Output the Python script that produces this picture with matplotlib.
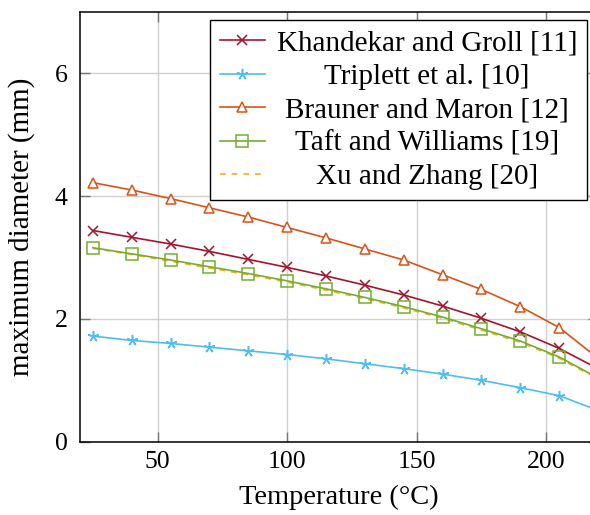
import matplotlib
matplotlib.use("Agg")
import matplotlib.pyplot as plt
import matplotlib.transforms as mtransforms

plt.rcParams['font.family'] = ['Liberation Serif', 'DejaVu Serif']

# ---- data ----
temperature = [25, 40, 55, 70, 85, 100, 115, 130, 145, 160, 175, 190, 205, 220]
khandekar = [3.44, 3.33, 3.22, 3.10, 2.97, 2.84, 2.70, 2.55, 2.39, 2.21, 2.01, 1.79, 1.52, 1.19]
triplett = [1.72, 1.65, 1.60, 1.54, 1.48, 1.42, 1.35, 1.27, 1.19, 1.10, 1.00, 0.88, 0.75, 0.51]
brauner = [4.22, 4.10, 3.96, 3.81, 3.66, 3.49, 3.32, 3.14, 2.96, 2.72, 2.48, 2.20, 1.86, 1.36]
taft = [3.16, 3.06, 2.96, 2.85, 2.74, 2.62, 2.49, 2.35, 2.20, 2.03, 1.84, 1.64, 1.38, 1.04]
xu = [3.15, 3.05, 2.94, 2.83, 2.72, 2.60, 2.47, 2.33, 2.18, 2.01, 1.82, 1.62, 1.36, 1.02]

labels = ["Khandekar and Groll [11]", "Triplett et al. [10]", "Brauner and Maron [12]",
          "Taft and Williams [19]", "Xu and Zhang [20]"]
x_ticks = [50, 100, 150, 200]
y_ticks = [0, 2, 4, 6]

W, H = 590, 515
fig = plt.figure(figsize=(W / 100, H / 100), dpi=100)
left, right, top, bottom = 80, 598, 12, 441.7
ax = fig.add_axes([left / W, 1 - bottom / H, (right - left) / W, (bottom - top) / H])

lw = 1.2
ax.plot(temperature, khandekar, color='#A2142F', lw=lw, marker='x', ms=6.5, mew=1.1,
        label=labels[0], zorder=3)
ax.plot(temperature, triplett, color='#4DBEEE', lw=lw, marker=(5, 2, 0), ms=8, mew=1.1,
        label=labels[1], zorder=3)
ax.plot(temperature, brauner, color='#D95319', lw=lw, marker='^', ms=7, mew=1.1,
        mfc='white', label=labels[2], zorder=3)
ax.plot(temperature, taft, color='#77AC30', lw=lw, marker='s', ms=8.5, mew=1.1,
        mfc='none', label=labels[3], zorder=3)
ax.plot(temperature, xu, color='#EDB120', lw=lw, ls=(0, (3.5, 3.5)),
        label=labels[4], zorder=2.9)

ax.set_xlim(20, 220)
ax.set_ylim(0, 7)
ax.set_xticks(x_ticks)
ax.set_yticks(y_ticks)
ax.grid(True, color='#d0d0d0', lw=1.0)
ax.set_axisbelow(True)
ax.tick_params(direction='in', length=7, width=1.0, color='#777777', labelsize=18.5,
               top=True, right=True)
ax.tick_params(axis='x', pad=7)
ax.tick_params(axis='y', pad=9)
for s in ax.spines.values():
    s.set_linewidth(1.1)
    s.set_color('black')

ax.set_xlabel("Temperature (°C)", fontsize=20.5, labelpad=8)
ax.set_ylabel("maximum diameter (mm)", fontsize=21, labelpad=14)

leg = ax.legend(loc='upper right', bbox_to_anchor=(0.979, 0.981), borderaxespad=0,
                prop={'size': 21}, fancybox=False, framealpha=1, edgecolor='black',
                handlelength=1.55, handletextpad=0.4, labelspacing=0.24,
                borderpad=0.34)
leg.get_frame().set_linewidth(1.0)

fig.canvas.draw()
r = fig.canvas.get_renderer()
texts = leg.get_texts()
ws = [t.get_window_extent(r).width for t in texts]
Wm = max(ws)
for t, w in zip(texts, ws):
    t.set_transform(t.get_transform() + mtransforms.Affine2D().translate((Wm - w) / 2, 0))

fig.savefig("out.png", dpi=100)
